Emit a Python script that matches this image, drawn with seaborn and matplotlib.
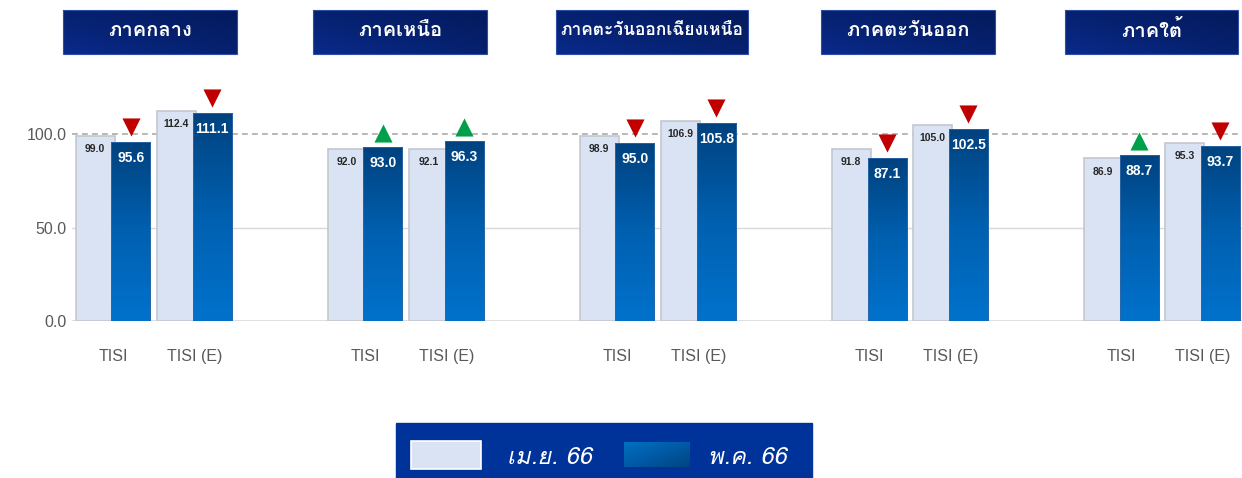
import numpy as np
import pandas as pd
import matplotlib
matplotlib.use('Agg')
import matplotlib.pyplot as plt
import seaborn as sns
from matplotlib import font_manager
from matplotlib.colors import LinearSegmentedColormap
from matplotlib.patches import Rectangle

# data
regions = ['ภาคกลาง', 'ภาคเหนือ', 'ภาคตะวันออกเฉียงเหนือ', 'ภาคตะวันออก', 'ภาคใต้']
indices = ['TISI', 'TISI (E)']
apr_66 = [99.0, 112.4, 92.0, 92.1, 98.9, 106.9, 91.8, 105.0, 86.9, 95.3]
may_66 = [95.6, 111.1, 93.0, 96.3, 95.0, 105.8, 87.1, 102.5, 88.7, 93.7]
legend_labels = ['เม.ย. 66', 'พ.ค. 66']


# find an installed font that has Thai glyphs
def find_thai_font():
    try:
        from fontTools.ttLib import TTFont
    except Exception:
        return None
    for f in font_manager.fontManager.ttflist:
        try:
            cmap = TTFont(f.fname, fontNumber=0, lazy=True).getBestCmap()
            if cmap and 0x0E01 in cmap and 0x0E32 in cmap:
                return f.name
        except Exception:
            pass
    return None


thai = find_thai_font()
thai_family = [thai, 'DejaVu Sans'] if thai else ['DejaVu Sans']

sns.set_theme(style='white')
plt.rcParams['font.family'] = ['Liberation Sans', 'DejaVu Sans']

# x positions: two bars per index, groups of two indices
step = 3.1
pos = np.array([g * step + k for g in range(len(regions)) for k in range(len(indices))])
off = 0.22
df = pd.DataFrame({'pos': pos, 'apr': apr_66, 'may': may_66})

fig = plt.figure(figsize=(12.42, 4.78), dpi=100)
W, H = 1242, 478
y0_px, y100_px = 321, 134
ppu = (y0_px - y100_px) / 100.0
ymax = 140
ax = fig.add_axes([72 / W, (H - y0_px) / H, 1 - 72 / W, ymax * ppu / H])

xlim = (-0.504, 13.886)

# reference lines
ax.axhline(50, color='#D9D9D9', lw=1, zorder=0)
ax.axhline(100, color='#ABABAB', lw=1.2, ls=(0, (3.5, 2.5)), zorder=0.5)
ax.axhline(0, color='#D9D9D9', lw=1.2, zorder=0.5)

sns.barplot(x=df['pos'] - off, y=df['apr'], native_scale=True, width=0.48,
            color='#DAE3F3', edgecolor='#C3C7CE', linewidth=1.2, saturation=1,
            errorbar=None, ax=ax, zorder=2)
n_light = len(ax.patches)
sns.barplot(x=df['pos'] + off, y=df['may'], native_scale=True, width=0.48,
            color='#0A4C8E', edgecolor='#2F68A6', linewidth=0.6, saturation=1,
            errorbar=None, ax=ax, zorder=3)

# vertical gradient on the May bars
grad = LinearSegmentedColormap.from_list('bar', ['#0072CC', '#0060B0', '#00427F'])
ramp = np.linspace(0, 1, 256).reshape(-1, 1)
for p in ax.patches[n_light:]:
    x0, w, h = p.get_x(), p.get_width(), p.get_height()
    im = ax.imshow(ramp, cmap=grad, extent=[x0, x0 + w, 0, h], origin='lower',
                   aspect='auto', zorder=3.1, interpolation='bilinear')
    im.set_clip_path(p)
    p.set_facecolor('none')
    p.set_zorder(3.2)

# value labels and change markers
for x, a, m in zip(df['pos'], df['apr'], df['may']):
    ax.text(x - off, a - 7, f'{a:.1f}', ha='center', va='center', fontsize=7.5,
            fontweight='bold', color='#262626', zorder=5)
    ax.text(x + off, m - 8.5, f'{m:.1f}', ha='center', va='center', fontsize=10,
            fontweight='bold', color='white', zorder=5)
    if m < a:
        ax.scatter(x + off, m + 8, marker='v', s=170, color='#C00000', lw=0, zorder=5, clip_on=False)
    else:
        ax.scatter(x + off, m + 7.5, marker='^', s=170, color='#00A04A', lw=0, zorder=5, clip_on=False)

ax.set_xlim(*xlim)
ax.set_ylim(0, ymax)
ax.set_yticks([0, 50, 100])
ax.set_yticklabels(['0.0', '50.0', '100.0'])
ax.set_xticks(pos)
ax.set_xticklabels(indices * len(regions))
ax.tick_params(axis='y', labelsize=11.5, labelcolor='#595959', length=0, pad=4)
ax.tick_params(axis='x', labelsize=11.5, labelcolor='#595959', length=0, pad=20)
ax.set_xlabel('')
ax.set_ylabel('')
for s in ax.spines.values():
    s.set_visible(False)

# overlay in pixel coordinates for header boxes and legend
ov = fig.add_axes([0, 0, 1, 1], zorder=10)
ov.set_xlim(0, W)
ov.set_ylim(H, 0)
ov.axis('off')
ov.patch.set_alpha(0)

head_grad = LinearSegmentedColormap.from_list('head', ['#0A2A8C', '#06216F', '#041A5C'])
diag = np.add.outer(np.linspace(0, 1, 40), np.linspace(0, 1, 120)) / 2
boxes = [(63, 237), (313, 487), (556, 748), (821, 995), (1065, 1238)]
for (bx0, bx1), name in zip(boxes, regions):
    ov.imshow(diag[::-1], cmap=head_grad, extent=[bx0, bx1, 54, 10], aspect='auto', zorder=1)
    ov.add_patch(Rectangle((bx0, 10), bx1 - bx0, 44, fill=False, edgecolor='#2E4FA8', lw=0.8, zorder=2))
    fs = 14.5 if len(name) < 15 else 12.5
    ov.text((bx0 + bx1) / 2, 30, name, ha='center', va='center', color='white',
            fontsize=fs, fontweight='bold', family=thai_family, zorder=3)

# legend panel
ov.add_patch(Rectangle((396, 423), 416, 55, color='#003399', zorder=1))
ov.add_patch(Rectangle((411, 441), 70, 28, facecolor='#DAE3F3', edgecolor='white', lw=1.2, zorder=2))
leg_grad = LinearSegmentedColormap.from_list('leg', ['#0070C0', '#005AA6', '#00447F'])
ov.imshow(diag, cmap=leg_grad, extent=[624, 690, 467, 442], aspect='auto', zorder=2)
ov.text(507, 457, legend_labels[0], ha='left', va='center', color='white', fontsize=17,
        style='italic', family=thai_family, zorder=3)
ov.text(708, 457, legend_labels[1], ha='left', va='center', color='white', fontsize=17,
        style='italic', family=thai_family, zorder=3)
ov.set_xlim(0, W)
ov.set_ylim(H, 0)

fig.savefig('out.png', dpi=100, facecolor='white')
